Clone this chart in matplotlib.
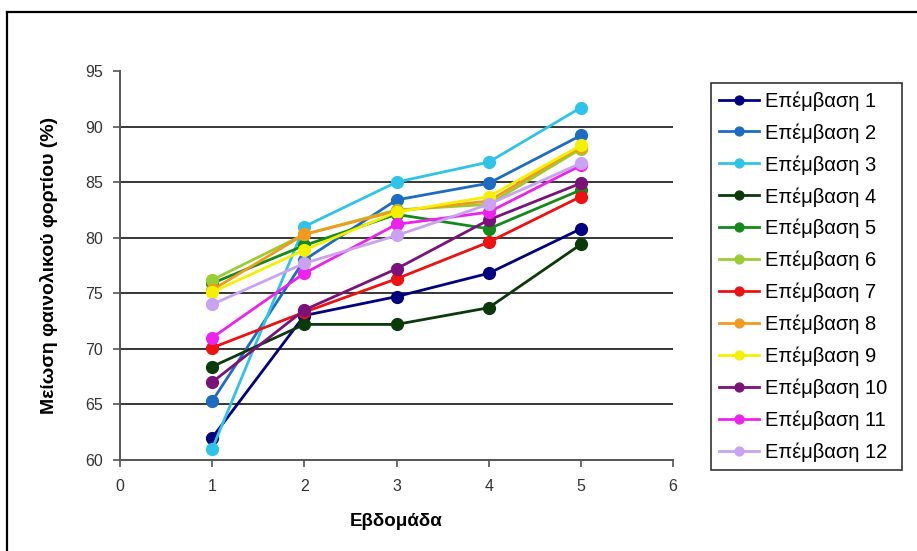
import matplotlib
matplotlib.use("Agg")
import matplotlib.pyplot as plt
from matplotlib.lines import Line2D

plt.rcParams['font.family'] = ['Liberation Sans', 'DejaVu Sans']

weeks = [1, 2, 3, 4, 5]

labels = ["Επέμβαση %d" % i for i in range(1, 13)]

ep1 = [62.0, 73.0, 74.7, 76.8, 80.8]
ep2 = [65.3, 78.0, 83.4, 84.9, 89.2]
ep3 = [61.0, 81.0, 85.0, 86.8, 91.7]
ep4 = [68.4, 72.2, 72.2, 73.7, 79.4]
ep5 = [75.9, 79.3, 82.1, 80.8, 84.3]
ep6 = [76.2, 80.3, 82.5, 83.0, 88.0]
ep7 = [70.1, 73.3, 76.3, 79.6, 83.7]
ep8 = [75.3, 80.3, 82.4, 83.3, 88.2]
ep9 = [75.1, 78.9, 82.3, 83.7, 88.3]
ep10 = [67.0, 73.5, 77.2, 81.6, 84.9]
ep11 = [71.0, 76.8, 81.2, 82.3, 86.5]
ep12 = [74.0, 77.7, 80.2, 83.0, 86.7]

series = [ep1, ep2, ep3, ep4, ep5, ep6, ep7, ep8, ep9, ep10, ep11, ep12]

colors = ["#000080", "#1c6cc4", "#2ec4ea", "#0a3a0a", "#138a1a", "#9acd32",
          "#ee1111", "#f39a1e", "#f5f000", "#7a127a", "#ee22ee", "#c9a2f2"]

fig = plt.figure(figsize=(9.17, 5.51), dpi=100)
ax = fig.add_axes([120 / 917, 91 / 551, 553 / 917, 389 / 551])

for vals, lab, col in zip(series, labels, colors):
    ax.plot(weeks, vals, color=col, lw=2.0, marker='o', markersize=8.5,
            markeredgecolor=col, label=lab)

ax.set_xlim(0, 6)
ax.set_ylim(60, 95)
ax.set_xticks(range(0, 7))
ax.set_yticks(range(60, 100, 5))
for v in range(65, 95, 5):
    ax.axhline(v, color='black', lw=1.1, zorder=0)

for s in ['top', 'right']:
    ax.spines[s].set_visible(False)
for s in ['left', 'bottom']:
    ax.spines[s].set_color('#555555')
    ax.spines[s].set_linewidth(1.4)

ax.tick_params(axis='both', direction='out', length=5, width=1.2,
               color='#555555', labelsize=11.5, labelcolor='#333333')
ax.tick_params(axis='x', pad=9)
ax.tick_params(axis='y', pad=7)

ax.set_xlabel("Εβδομάδα", fontsize=13.5, fontweight='bold', labelpad=13)
ax.set_ylabel("Μείωση φαινολικού φορτίου (%)", fontsize=14,
              fontweight='bold', labelpad=20)

# legend box fixed to 191 px wide at the right of the chart
leg = fig.legend(loc='upper left',
                 bbox_to_anchor=(711 / 917, 0.1, 191 / 917, 1 - 83 / 551 - 0.1),
                 mode='expand', fontsize=14.5, frameon=True, fancybox=False,
                 framealpha=1, edgecolor='#333333', handlelength=2.0,
                 handletextpad=0.3, labelspacing=0.62, borderpad=0.4,
                 borderaxespad=0, markerscale=0.75)
leg.get_frame().set_linewidth(1.2)

# chart area border, left and top edges only
fig.add_artist(Line2D([7 / 917, 7 / 917], [0, 1 - 12 / 551],
                      transform=fig.transFigure, color='black', lw=1.6))
fig.add_artist(Line2D([7 / 917, 1], [1 - 12 / 551, 1 - 12 / 551],
                      transform=fig.transFigure, color='black', lw=1.6))

fig.savefig("out.png", dpi=100)
